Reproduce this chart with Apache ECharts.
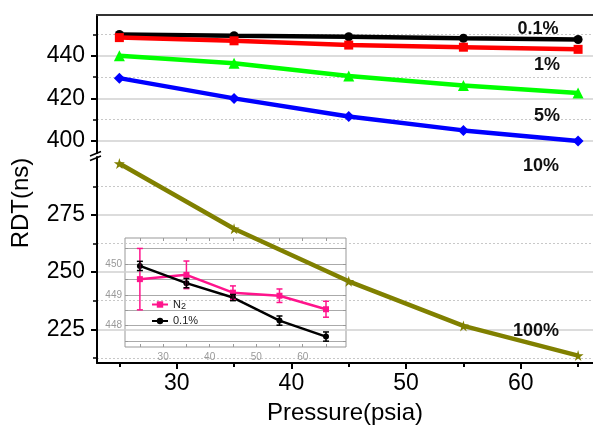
<!DOCTYPE html>
<html><head><meta charset="utf-8">
<script src="https://cdn.jsdelivr.net/npm/echarts@6/dist/echarts.min.js"></script>
<style>html,body{margin:0;padding:0;background:#fff}#c{width:593px;height:427px}</style>
</head><body><div id="c"></div>
<script>
const pressure = [25, 35, 45, 55, 65];
const rdt01 = [450.0, 449.4, 448.9, 448.2, 447.6];
const rdt1 = [448.5, 447.0, 445.0, 444.0, 443.0];
const rdt5 = [440.0, 436.5, 430.5, 426.0, 422.5];
const rdt10 = [429.5, 420.0, 411.5, 405.0, 400.0];
const rdt100 = [297.5, 269.0, 246.0, 226.5, 213.5];
const insetN2 = [449.51, 449.65, 449.07, 448.97, 448.53];
const insetN2Err = [1.0, 0.45, 0.22, 0.22, 0.26];
const inset01 = [449.94, 449.38, 448.91, 448.16, 447.64];
const inset01Err = [0.15, 0.15, 0.10, 0.15, 0.15];
const upperTicks = [400, 420, 440];
const upperMinor = [410, 430, 450];
const lowerTicks = [225, 250, 275];
const lowerMinor = [212.5, 237.5, 262.5, 287.5];
const xTicks = [30, 40, 50, 60];
const xMinor = [25, 35, 45, 55, 65];
const insetYTicks = [448, 449, 450];
const insetYAllTicks = [447.5, 448, 448.5, 449, 449.5, 450, 450.5];
const insetXTicks = [30, 40, 50, 60];
const insetXAllTicks = [25, 30, 35, 40, 45, 50, 55, 60, 65];
const seriesNames = ['0.1%', '1%', '5%', '10%', '100%'];
const insetNames = ['N2', '0.1%'];

const FONT = 'Liberation Sans, Arial, sans-serif';
const pts = ys => pressure.map((x, i) => [x, ys[i]]);
const STAR = 'path://M50,0 L61,35 L98,35 L68,57 L79,91 L50,70 L21,91 L32,57 L2,35 L39,35 Z';

function errSeries(vals, errs, color) {
  return {
    type: 'custom', xAxisIndex: 3, yAxisIndex: 4, z: 4, silent: true,
    data: pressure.map((x, i) => [x, vals[i] - errs[i], vals[i] + errs[i]]),
    renderItem(params, api) {
      const x = api.value(0);
      const lo = api.coord([x, api.value(1)]);
      const hi = api.coord([x, api.value(2)]);
      const w = 3;
      const st = { stroke: color, lineWidth: 1.5 };
      return { type: 'group', children: [
        { type: 'line', shape: { x1: lo[0], y1: lo[1], x2: hi[0], y2: hi[1] }, style: st },
        { type: 'line', shape: { x1: lo[0] - w, y1: lo[1], x2: lo[0] + w, y2: lo[1] }, style: st },
        { type: 'line', shape: { x1: hi[0] - w, y1: hi[1], x2: hi[0] + w, y2: hi[1] }, style: st }
      ]};
    }
  };
}

const XMIN = 23.05, XMAX = 66.3;
const UMIN = 394.4, UMAX = 459.1;
const LMIN = 210.27, LMAX = 300.35;

const mainLine = (name, ys, color, symbol, size, yi) => ({
  name, type: 'line', xAxisIndex: yi === 0 ? 0 : 1, yAxisIndex: yi,
  data: pts(ys), symbol, symbolSize: size, z: 6,
  lineStyle: { color, width: 4.5 }, itemStyle: { color }
});

const option = {
  animation: false,
  backgroundColor: '#fff',
  textStyle: { fontFamily: FONT },
  grid: [
    { left: 97, top: 15, width: 496, height: 138 },
    { left: 97, top: 157, width: 496, height: 206 },
    { left: 125, top: 238, width: 221, height: 109, show: true, borderColor: '#999', borderWidth: 1, backgroundColor: 'transparent' }
  ],
  xAxis: [
    { gridIndex: 0, type: 'value', min: XMIN, max: XMAX, position: 'top',
      axisLine: { show: true, lineStyle: { color: '#333', width: 2 } },
      axisTick: { show: false }, axisLabel: { show: false }, splitLine: { show: false } },
    { gridIndex: 1, type: 'value', min: XMIN, max: XMAX, position: 'bottom',
      axisLine: { show: true, lineStyle: { color: '#000', width: 2 } },
      axisTick: { show: true, customValues: xTicks, length: 6, lineStyle: { color: '#000', width: 2 } },
      axisLabel: { customValues: xTicks, fontSize: 23, color: '#000', margin: 9, fontFamily: FONT },
      splitLine: { show: false },
      name: 'Pressure(psia)', nameLocation: 'middle', nameGap: 38,
      nameTextStyle: { fontSize: 24, color: '#000', fontFamily: FONT } },
    { gridIndex: 1, type: 'value', min: XMIN, max: XMAX, position: 'bottom',
      axisLine: { show: false },
      axisTick: { show: true, customValues: xMinor, length: 4, lineStyle: { color: '#000', width: 2 } },
      axisLabel: { show: false }, splitLine: { show: false } },
    { gridIndex: 2, type: 'value', min: 21.8, max: 69.3, position: 'bottom',
      axisLine: { show: false },
      axisTick: { show: true, inside: true, customValues: insetXAllTicks, length: 3, lineStyle: { color: '#999', width: 1 } },
      axisLabel: { customValues: insetXTicks, fontSize: 10, color: '#999', margin: 5, fontFamily: FONT },
      splitLine: { show: false } },
    { gridIndex: 2, type: 'value', min: 21.8, max: 69.3, position: 'top',
      axisLine: { show: false },
      axisTick: { show: true, inside: true, customValues: insetXAllTicks, length: 3, lineStyle: { color: '#999', width: 1 } },
      axisLabel: { show: false }, splitLine: { show: false } }
  ],
  yAxis: [
    { gridIndex: 0, type: 'value', min: UMIN, max: UMAX, position: 'left',
      axisLine: { show: true, lineStyle: { color: '#000', width: 2 } },
      axisTick: { show: true, customValues: upperTicks, length: 6, lineStyle: { color: '#000', width: 2 } },
      axisLabel: { customValues: upperTicks, fontSize: 23, color: '#000', margin: 12, fontFamily: FONT },
      splitLine: { show: true, lineStyle: { color: '#d0d0d0', width: 1.5 } } },
    { gridIndex: 0, type: 'value', min: UMIN, max: UMAX, position: 'left',
      axisLine: { show: false },
      axisTick: { show: true, customValues: upperMinor, length: 4, lineStyle: { color: '#000', width: 1.5 } },
      axisLabel: { show: false },
      splitLine: { show: true, lineStyle: { color: '#c8c8c8', width: 1, type: [2, 2] } } },
    { gridIndex: 1, type: 'value', min: LMIN, max: LMAX, position: 'left',
      axisLine: { show: true, lineStyle: { color: '#000', width: 2 } },
      axisTick: { show: true, customValues: lowerTicks, length: 6, lineStyle: { color: '#000', width: 2 } },
      axisLabel: { customValues: lowerTicks, fontSize: 23, color: '#000', margin: 12, fontFamily: FONT },
      splitLine: { show: true, lineStyle: { color: '#d0d0d0', width: 1.5 } } },
    { gridIndex: 1, type: 'value', min: LMIN, max: LMAX, position: 'left',
      axisLine: { show: false },
      axisTick: { show: true, customValues: lowerMinor, length: 4, lineStyle: { color: '#000', width: 1.5 } },
      axisLabel: { show: false },
      splitLine: { show: true, lineStyle: { color: '#c8c8c8', width: 1, type: [2, 2] } } },
    { gridIndex: 2, type: 'value', min: 447.3, max: 450.85, position: 'left',
      axisLine: { show: false },
      axisTick: { show: true, inside: true, customValues: insetYAllTicks, length: 3, lineStyle: { color: '#999', width: 1 } },
      axisLabel: { customValues: insetYTicks, fontSize: 10, color: '#999', margin: 3, fontFamily: FONT },
      splitLine: { show: true, lineStyle: { color: '#aaa', width: 1.2 } } },
    { gridIndex: 2, type: 'value', min: 447.3, max: 450.85, position: 'right',
      axisLine: { show: false },
      axisTick: { show: true, inside: true, customValues: insetYAllTicks, length: 3, lineStyle: { color: '#999', width: 1 } },
      axisLabel: { show: false }, splitLine: { show: false } }
  ],
  legend: {
    data: insetNames, left: 146, top: 294, orient: 'vertical', itemGap: 4,
    itemWidth: 16, itemHeight: 8,
    textStyle: { fontSize: 11, color: '#222', fontFamily: FONT,
      rich: { sub: { fontSize: 9, padding: [5, 0, 0, 0], color: '#222' } } },
    formatter: n => n === 'N2' ? 'N{sub|2}' : n
  },
  series: [
    mainLine(seriesNames[0], rdt01, '#000000', 'circle', 9, 0),
    mainLine(seriesNames[1], rdt1, '#ff0000', 'rect', 9, 0),
    mainLine(seriesNames[2], rdt5, '#00ff00', 'triangle', 11, 0),
    mainLine(seriesNames[3], rdt10, '#0000ff', 'diamond', 11, 0),
    mainLine(seriesNames[4], rdt100, '#808000', STAR, 11, 2),
    errSeries(insetN2, insetN2Err, '#ff148c'),
    errSeries(inset01, inset01Err, '#000000'),
    { name: insetNames[0], type: 'line', xAxisIndex: 3, yAxisIndex: 4, data: pts(insetN2), z: 3,
      symbol: 'rect', symbolSize: 6, lineStyle: { color: '#ff148c', width: 2.5 }, itemStyle: { color: '#ff148c' } },
    { name: insetNames[1], type: 'line', xAxisIndex: 3, yAxisIndex: 4, data: pts(inset01), z: 3,
      symbol: 'circle', symbolSize: 6, lineStyle: { color: '#000', width: 2.5 }, itemStyle: { color: '#000' } }
  ],
  graphic: [
    { type: 'line', z: 100, shape: { x1: 90, y1: 156, x2: 101, y2: 151.5 }, style: { stroke: '#000', lineWidth: 1.5 } },
    { type: 'line', z: 100, shape: { x1: 90, y1: 160.5, x2: 101, y2: 156 }, style: { stroke: '#000', lineWidth: 1.5 } },
    { type: 'text', z: 100, x: 21, y: 203, rotation: Math.PI / 2,
      style: { text: 'RDT(ns)', fontSize: 24, fill: '#000', fontFamily: FONT, align: 'center', verticalAlign: 'middle' } },
    { type: 'text', z: 100, x: 538, y: 29, style: { text: '0.1%', fontSize: 18, fontWeight: 'bold', fill: '#111', fontFamily: FONT, align: 'center', verticalAlign: 'middle' } },
    { type: 'text', z: 100, x: 547, y: 65, style: { text: '1%', fontSize: 18, fontWeight: 'bold', fill: '#111', fontFamily: FONT, align: 'center', verticalAlign: 'middle' } },
    { type: 'text', z: 100, x: 547, y: 116, style: { text: '5%', fontSize: 18, fontWeight: 'bold', fill: '#111', fontFamily: FONT, align: 'center', verticalAlign: 'middle' } },
    { type: 'text', z: 100, x: 541, y: 166, style: { text: '10%', fontSize: 18, fontWeight: 'bold', fill: '#111', fontFamily: FONT, align: 'center', verticalAlign: 'middle' } },
    { type: 'text', z: 100, x: 536, y: 331, style: { text: '100%', fontSize: 18, fontWeight: 'bold', fill: '#111', fontFamily: FONT, align: 'center', verticalAlign: 'middle' } }
  ]
};
echarts.init(document.getElementById('c'), null, { renderer: 'canvas' }).setOption(option);
</script></body></html>
